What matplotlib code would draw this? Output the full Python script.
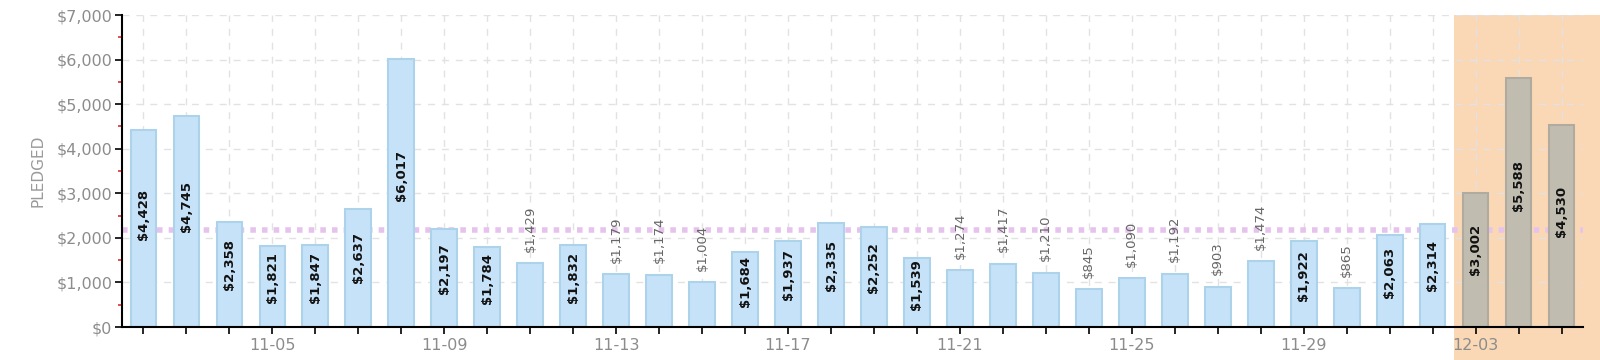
import matplotlib
matplotlib.use("Agg")
import matplotlib.pyplot as plt
from matplotlib.patches import Rectangle
from matplotlib.ticker import FuncFormatter, MultipleLocator

# ----- data -----
dates = ["11-02", "11-03", "11-04", "11-05", "11-06", "11-07", "11-08", "11-09",
         "11-10", "11-11", "11-12", "11-13", "11-14", "11-15", "11-16", "11-17",
         "11-18", "11-19", "11-20", "11-21", "11-22", "11-23", "11-24", "11-25",
         "11-26", "11-27", "11-28", "11-29", "11-30", "12-01", "12-02", "12-03",
         "12-04", "12-05"]
pledged = [4428, 4745, 2358, 1821, 1847, 2637, 6017, 2197,
           1784, 1429, 1832, 1179, 1174, 1004, 1684, 1937,
           2335, 2252, 1539, 1274, 1417, 1210, 845, 1090,
           1192, 903, 1474, 1922, 865, 2063, 2314, 3002,
           5588, 4530]
highlight_from = "12-03"   # last days shown on orange
# -----------------------------------

BLUE, BLUE_EDGE = "#c6e2f9", "#add3ea"
GREY, GREY_EDGE = "#c0bcb0", "#b0ab9e"
PEACH = "#fad8b6"
TXT = "#8c8c8c"

fig = plt.figure(figsize=(16, 3.6), dpi=100)
ax = fig.add_axes([122 / 1600, 33 / 360, (1583 - 122) / 1600, (327 - 15) / 360])

x = list(range(len(dates)))
hi = dates.index(highlight_from)
colors = [GREY if i >= hi else BLUE for i in x]
edges = [GREY_EDGE if i >= hi else BLUE_EDGE for i in x]

ax.bar(x, pledged, width=0.6, color=colors, edgecolor=edges, linewidth=1.5, zorder=2)

# highlighted period, runs past the axes down to the figure bottom
ax.add_patch(Rectangle((hi - 0.5, -2000), 10, 9000, facecolor=PEACH,
                       edgecolor="none", clip_on=False, zorder=0.1))

# average line
avg = sum(pledged) / len(pledged)
ax.axhline(avg, color="#e6c3ec", lw=4, ls=(0, (1, 1.1)), zorder=1.5)

# value labels
for i, v in enumerate(pledged):
    s = "${:,}".format(v)
    if v >= 1500:
        ax.text(i, v * 0.55 + 100, s, rotation=90, ha="center", va="center",
                fontsize=9.5, fontweight="bold", color="#111111", zorder=3)
    else:
        ax.text(i, v + 260, s, rotation=90, ha="center", va="bottom",
                fontsize=9.5, color="#666666", zorder=3)

ax.set_xlim(-0.5, len(dates) - 0.5)
ax.set_ylim(0, 7000)
ax.set_xticks(x)
ax.set_xticklabels([d if (i - 3) % 4 == 0 else "" for i, d in enumerate(dates)])
ax.yaxis.set_major_locator(MultipleLocator(1000))
ax.yaxis.set_minor_locator(MultipleLocator(500))
ax.yaxis.set_major_formatter(FuncFormatter(lambda v, p: "${:,.0f}".format(v)))

ax.tick_params(axis="x", length=5, width=1.2, color="black", labelsize=11.5,
               labelcolor=TXT, pad=3)
ax.tick_params(axis="y", which="major", length=5, width=1.2, color="black",
               labelsize=11.5, labelcolor=TXT, pad=2)
ax.tick_params(axis="y", which="minor", length=3, width=1.2, color="#e0302a")

for side in ("top", "right"):
    ax.spines[side].set_visible(False)
ax.spines["left"].set_linewidth(1.5)
ax.spines["bottom"].set_linewidth(1.5)
ax.spines["bottom"].set_zorder(4)

ax.set_axisbelow(True)
ax.grid(True, which="major", color="#e2e2e2", ls=(0, (5, 5)), lw=1)
for gl in ax.get_xgridlines() + ax.get_ygridlines():
    gl.set_zorder(0.5)

ax.set_ylabel("PLEDGED", color="#9a9a9a", fontsize=11, labelpad=8)

fig.savefig("out.png", dpi=100)
